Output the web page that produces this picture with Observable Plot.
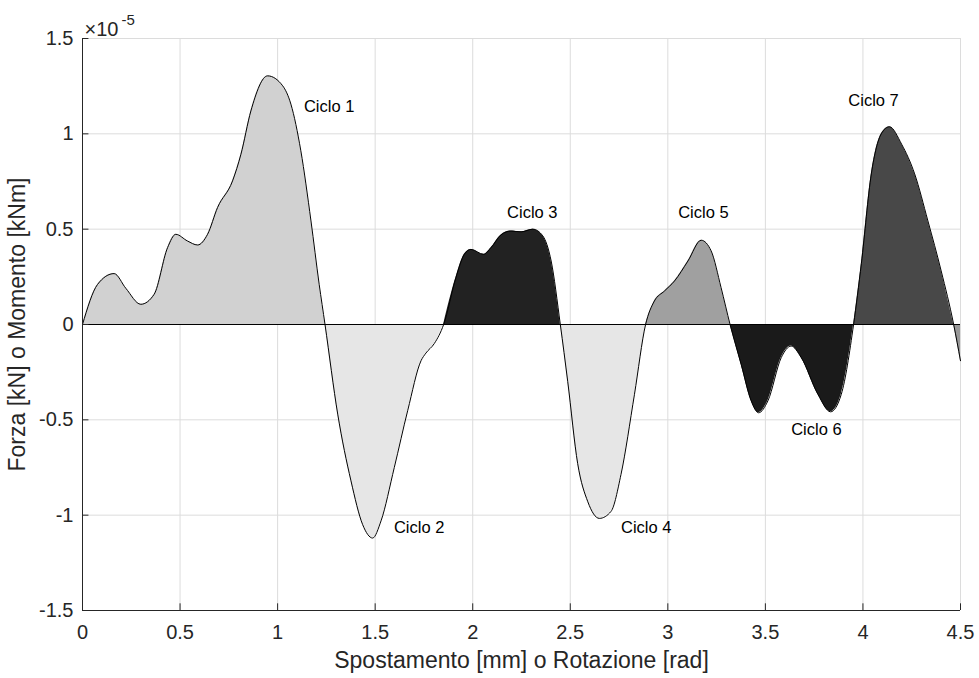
<!DOCTYPE html>
<html><head><meta charset="utf-8">
<script src="https://cdn.jsdelivr.net/npm/d3@7"></script>
<script src="https://cdn.jsdelivr.net/npm/@observablehq/plot@0.6"></script>
<style>
body{margin:0;background:#fff}
#chart{width:979px;height:678px}
</style>
</head><body><div id="chart"></div>
<script>
// Curve points (y in units of 1e-5)
const curveX = [0,0.077,0.162,0.222,0.299,0.367,0.436,0.478,0.538,0.59,0.641,0.692,0.769,0.812,0.863,0.949,1.026,1.068,1.119,1.171,1.213,1.243,
  1.308,1.376,1.436,1.487,1.53,1.598,1.667,1.735,1.76,1.803,1.851,
  1.914,1.957,1.991,2.056,2.094,2.145,2.196,2.248,2.308,2.359,2.402,2.449,
  2.487,2.538,2.59,2.649,2.709,2.76,2.829,2.886,
  2.931,2.983,3.034,3.103,3.171,3.222,3.273,3.319,
  3.376,3.427,3.465,3.513,3.581,3.632,3.684,3.769,3.834,3.889,3.952,
  3.992,4.043,4.094,4.136,4.198,4.265,4.333,4.401,4.465,
  4.5];
const curveY = [0,0.21,0.267,0.19,0.106,0.158,0.403,0.473,0.438,0.417,0.473,0.613,0.753,0.893,1.12,1.304,1.252,1.156,0.911,0.543,0.211,0,
  -0.47,-0.82,-1.05,-1.12,-1.03,-0.75,-0.45,-0.19,-0.15,-0.10,0,
  0.246,0.368,0.394,0.368,0.403,0.47,0.49,0.486,0.50,0.465,0.333,0,
  -0.30,-0.73,-0.93,-1.017,-0.98,-0.786,-0.366,0,
  0.123,0.176,0.228,0.333,0.442,0.386,0.193,0,
  -0.21,-0.40,-0.463,-0.40,-0.174,-0.113,-0.174,-0.366,-0.458,-0.366,0,
  0.32,0.79,1.0,1.037,0.946,0.79,0.543,0.281,0,
  -0.19];
// zero crossings bounding each filled region
const crossings = [0,1.243,1.851,2.449,2.886,3.319,3.952,4.465,4.5];
const regionNames = ["c1","c2","c3","c4","c5","c6","c7","c8"];
const regionFills = ["#d1d1d1","#e6e6e6","#222222","#e6e6e6","#a0a0a0","#1a1a1a","#484848","#999999"];

const labelText = ["Ciclo 1","Ciclo 2","Ciclo 3","Ciclo 4","Ciclo 5","Ciclo 6","Ciclo 7"];
const labelX = [1.135,1.596,2.176,2.76,3.053,3.632,3.925];
const labelY = [1.142,-1.068,0.585,-1.068,0.585,-0.554,1.173];

const xTicks = [0,0.5,1,1.5,2,2.5,3,3.5,4,4.5];
const yTicks = [-1.5,-1,-0.5,0,0.5,1,1.5];

const points = curveX.map((x,i)=>({x, y: curveY[i]}));
const areaData = regionNames.flatMap((name,r)=>
  points.filter(p => p.x >= crossings[r] - 1e-9 && p.x <= crossings[r+1] + 1e-9).map(p => ({...p, region: name})));
const labels = labelText.map((t,i)=>({t, x: labelX[i], y: labelY[i]}));

const font = "'Liberation Sans', Arial, Helvetica, sans-serif";
const plot = Plot.plot({
  width: 979, height: 678,
  marginLeft: 82, marginRight: 19, marginTop: 38, marginBottom: 68,
  style: {fontFamily: font, fontSize: "20px", color: "#262626", background: "white", overflow: "visible"},
  x: {domain: [0, 4.5]},
  y: {domain: [-1.5, 1.5]},
  color: {type: "ordinal", domain: regionNames, range: regionFills},
  marks: [
    Plot.gridX(xTicks, {stroke: "#dcdcdc", strokeOpacity: 1}),
    Plot.gridY(yTicks, {stroke: "#dcdcdc", strokeOpacity: 1}),
    Plot.areaY(areaData, {x: "x", y: "y", z: "region", fill: "region", curve: "monotone-x"}),
    Plot.lineY(points, {x: "x", y: "y", stroke: "black", strokeWidth: 1, curve: "monotone-x"}),
    Plot.ruleY([0], {stroke: "black", strokeWidth: 1.2}),
    Plot.ruleX(xTicks, {x: d => d, y1: -1.5, y2: -1.5 + 0.035, stroke: "#262626"}),
    Plot.ruleY(yTicks, {y: d => d, x1: 0, x2: 0.033, stroke: "#262626"}),
    Plot.ruleX([0], {stroke: "#262626"}),
    Plot.ruleY([-1.5], {stroke: "#262626"}),
    Plot.axisX(xTicks, {tickSize: 0, tickPadding: 14, fontSize: 20, tickFormat: d => String(d),
      label: "Spostamento [mm] o Rotazione [rad]", labelAnchor: "center", labelOffset: 57, labelArrow: "none"}),
    Plot.axisY(yTicks, {tickSize: 0, tickPadding: 9, fontSize: 20, tickFormat: d => String(d),
      label: "Forza [kN] o Momento [kNm]", labelAnchor: "center", labelOffset: 74, labelArrow: "none"}),
    Plot.text(labels, {x: "x", y: "y", text: "t", textAnchor: "start", fontSize: 16.5, fill: "black"}),
    Plot.text(["×10"], {frameAnchor: "top-left", text: d => d, textAnchor: "start", lineAnchor: "bottom", dx: 2, dy: -3, fontSize: 20, fill: "#262626"}),
    Plot.text(["-5"], {frameAnchor: "top-left", text: d => d, textAnchor: "start", lineAnchor: "bottom", dx: 39, dy: -14, fontSize: 15, fill: "#262626"})
  ]
});
d3.select(plot).selectAll('[aria-label="x-axis label"], [aria-label="y-axis label"]')
  .attr("font-size", 23)
  .selectAll("text")
  .text(function(){ return this.textContent.replace(/[\u2190-\u2193]/g, "").trim(); });
document.getElementById("chart").appendChild(plot);
</script>
</body></html>
